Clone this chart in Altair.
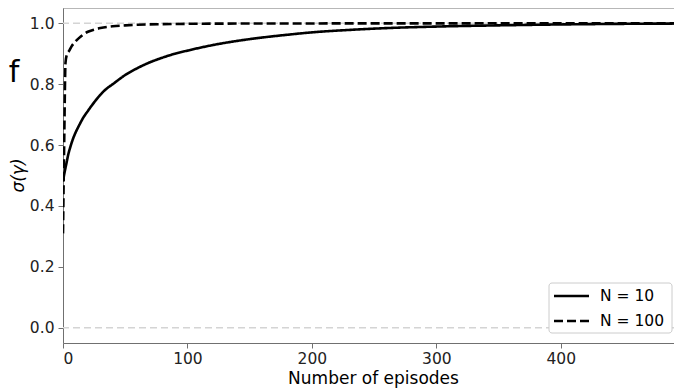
import altair as alt
import pandas as pd

# ---- data ----
ep_n10 = [0, 1, 2, 3, 4, 6, 8, 10, 13, 16, 20, 25, 30, 35, 40, 50, 60, 70, 80, 90,
          100, 120, 140, 160, 180, 200, 230, 260, 300, 350, 400, 450, 499]
sig_n10 = [0.48, 0.505, 0.525, 0.545, 0.565, 0.595, 0.62, 0.64, 0.665, 0.688, 0.712,
           0.74, 0.765, 0.785, 0.80, 0.83, 0.853, 0.872, 0.887, 0.90, 0.91, 0.928,
           0.942, 0.953, 0.962, 0.97, 0.978, 0.984, 0.989, 0.993, 0.996, 0.998, 0.999]

ep_n100 = [0, 1, 2, 3, 5, 7, 10, 13, 16, 20, 25, 30, 40, 50, 60, 80, 100, 150, 200,
           300, 400, 499]
sig_n100 = [0.31, 0.62, 0.87, 0.895, 0.91, 0.925, 0.94, 0.952, 0.962, 0.972, 0.979,
            0.984, 0.99, 0.993, 0.995, 0.997, 0.998, 0.999, 0.9993, 0.9996, 0.9998,
            0.9999]

series_labels = ["N = 10", "N = 100"]
series_dash = [[1, 0], [9, 4]]
ref_levels = [0.0, 1.0]
x_ticks = [0, 100, 200, 300, 400]
y_ticks = [0.0, 0.2, 0.4, 0.6, 0.8, 1.0]
panel_label = "f"

df = pd.concat([
    pd.DataFrame({"episode": ep_n10, "sigma": sig_n10, "series": series_labels[0]}),
    pd.DataFrame({"episode": ep_n100, "sigma": sig_n100, "series": series_labels[1]}),
])

FONT = "DejaVu Sans"
SPINE = "#707070"
W, H = 611, 335

x_scale = alt.Scale(domain=[0, 491], nice=False, zero=False)
y_scale = alt.Scale(domain=[-0.05, 1.05], nice=False, zero=False)
dash_scale = alt.Scale(domain=series_labels, range=series_dash)

refs = alt.Chart(pd.DataFrame({"sigma": ref_levels})).mark_rule(
    color="#d4d4d4", strokeWidth=1.5, strokeDash=[7, 4]
).encode(y=alt.Y("sigma:Q", scale=y_scale))

top_spine = alt.Chart(pd.DataFrame({"a": [0]})).mark_rule(
    color=SPINE, strokeWidth=1
).encode(y=alt.value(0))

lines = alt.Chart(df).mark_line(
    color="black", strokeWidth=2.6, interpolate="monotone", clip=True
).encode(
    x=alt.X("episode:Q", scale=x_scale,
            axis=alt.Axis(values=x_ticks, title="Number of episodes", format="d",
                          titleX=310, titleY=40, titleBaseline="alphabetic")),
    y=alt.Y("sigma:Q", scale=y_scale,
            axis=alt.Axis(values=y_ticks, format=".1f", title="σ(γ)",
                          titleFontStyle="italic", titleAngle=-90,
                          titleX=-45, titleY=167, titleBaseline="middle",
                          titleAlign="center")),
    strokeDash=alt.StrokeDash("series:N", scale=dash_scale, legend=None),
)

label = alt.Chart(pd.DataFrame({"t": [panel_label]})).mark_text(
    fontSize=30, font=FONT, color="black", align="center", baseline="alphabetic"
).encode(text="t:N", x=alt.value(-49), y=alt.value(74))

# ---- legend (box + entries), placed in the lower right corner ----
LX, LY, LW, LH = 486, 275, 123, 50
legend_box = alt.Chart(pd.DataFrame({"a": [0]})).mark_rect(
    fill="white", stroke="#cccccc", strokeWidth=1, cornerRadius=3
).encode(x=alt.value(LX), x2=alt.value(LX + LW), y=alt.value(LY), y2=alt.value(LY + LH))

legend_layers = []
for i, name in enumerate(series_labels):
    row_y = LY + 13 + 25 * i
    entry = pd.DataFrame({"series": [name]})
    legend_layers.append(
        alt.Chart(entry).mark_rule(color="black", strokeWidth=2.6).encode(
            x=alt.value(LX + 5), x2=alt.value(LX + 40), y=alt.value(row_y),
            strokeDash=alt.StrokeDash("series:N", scale=dash_scale, legend=None),
        )
    )
    legend_layers.append(
        alt.Chart(entry).mark_text(
            font=FONT, fontSize=15.5, color="black", align="left", baseline="middle"
        ).encode(text="series:N", x=alt.value(LX + 51), y=alt.value(row_y))
    )

chart = alt.layer(refs, top_spine, lines, label, legend_box, *legend_layers).properties(
    width=W, height=H,
    autosize=alt.AutoSizeParams(type="none"),
    padding={"left": 55, "top": 0, "right": 0, "bottom": 46},
).configure_view(stroke=None).configure_axis(
    grid=False, domainColor=SPINE, tickColor=SPINE, tickSize=5,
    labelFont=FONT, labelFontSize=15.5, labelColor="#222222", labelPadding=3,
    titleFont=FONT, titleFontSize=17, titleFontWeight="normal", titleColor="black",
).configure_axisY(labelPadding=4)

chart.save("out.html", embed_options={"renderer": "svg", "actions": False})
